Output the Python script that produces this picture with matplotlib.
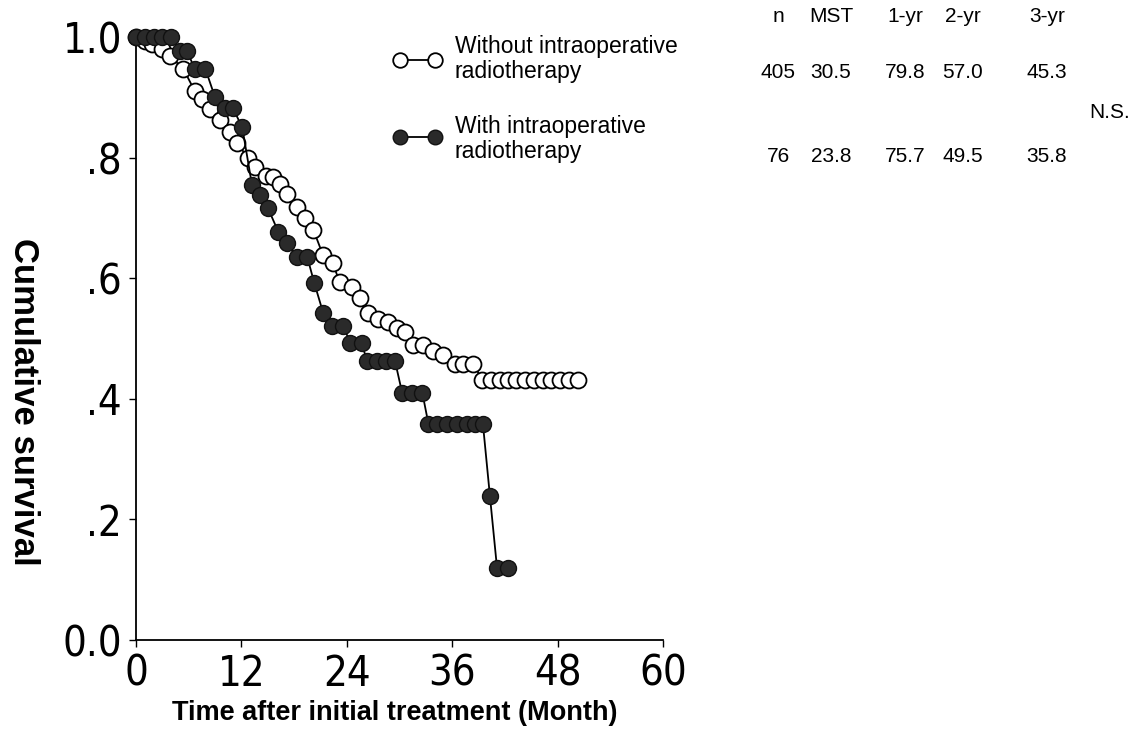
import matplotlib
matplotlib.use("Agg")
import matplotlib.pyplot as plt
from matplotlib.lines import Line2D
from matplotlib import font_manager
from pathlib import Path

# survival curve points (month, cumulative survival)
without_month = [0, 1.0, 1.8, 3.0, 3.9, 5.4, 6.7, 7.5, 8.4, 9.6, 10.7, 11.5,
                 12.7, 13.6, 14.8, 15.6, 16.4, 17.2, 18.3, 19.2, 20.2, 21.3,
                 22.4, 23.2, 24.6, 25.5, 26.4, 27.6, 28.7, 29.7, 30.6, 31.5,
                 32.7, 33.8, 35.0, 36.3, 37.2, 38.4, 39.4, 40.4, 41.4, 42.4,
                 43.3, 44.3, 45.3, 46.3, 47.3, 48.3, 49.3, 50.3]
without_surv = [1.0, 0.993, 0.988, 0.98, 0.968, 0.947, 0.91, 0.897, 0.88, 0.863,
                0.842, 0.825, 0.80, 0.785, 0.77, 0.767, 0.757, 0.74, 0.718, 0.70,
                0.68, 0.638, 0.625, 0.593, 0.585, 0.567, 0.542, 0.533, 0.527,
                0.517, 0.51, 0.49, 0.49, 0.48, 0.472, 0.458, 0.458, 0.458, 0.432,
                0.432, 0.432, 0.432, 0.432, 0.432, 0.432, 0.432, 0.432, 0.432,
                0.432, 0.432]

with_month = [0, 1, 2, 3, 4, 5.0, 5.8, 6.7, 7.9, 9.0, 10.1, 11.0, 12.1, 13.2,
              14.1, 15.0, 16.2, 17.2, 18.3, 19.5, 20.3, 21.3, 22.3, 23.6, 24.4,
              25.7, 26.3, 27.4, 28.5, 29.5, 30.3, 31.4, 32.6, 33.3, 34.3, 35.4,
              36.6, 37.7, 38.6, 39.5, 40.3, 41.1, 42.3]
with_surv = [1.0, 1.0, 1.0, 1.0, 1.0, 0.977, 0.977, 0.947, 0.947, 0.90, 0.883,
             0.883, 0.85, 0.755, 0.738, 0.717, 0.677, 0.658, 0.635, 0.635, 0.592,
             0.543, 0.52, 0.52, 0.493, 0.493, 0.462, 0.462, 0.462, 0.462, 0.41,
             0.41, 0.41, 0.358, 0.358, 0.358, 0.358, 0.358, 0.358, 0.358, 0.238,
             0.12, 0.12]

x_ticks = [0, 12, 24, 36, 48, 60]
y_ticks = [0.0, 0.2, 0.4, 0.6, 0.8, 1.0]
y_tick_labels = ["0.0", ".2", ".4", ".6", ".8", "1.0"]

table_header = ["n", "MST", "1-yr", "2-yr", "3-yr"]
row_without = ["405", "30.5", "79.8", "57.0", "45.3"]
row_with = ["76", "23.8", "75.7", "49.5", "35.8"]
label_without = "Without intraoperative\nradiotherapy"
label_with = "With intraoperative\nradiotherapy"

SANS = ["Liberation Sans", "DejaVu Sans"]


def narrow_font(size):
    # look for a condensed face for the tall tick numbers
    files = [f.fname for f in font_manager.fontManager.ttflist]
    for key in ["LiberationSansNarrow-Regular", "DejaVuSansCondensed.",
                "RobotoCondensed-Regular", "Roboto_Condensed-Regular",
                "OpenSans_Condensed-Regular", "Condensed-Regular", "Narrow-Regular"]:
        for fn in files:
            if key in Path(fn).name:
                return font_manager.FontProperties(fname=fn, size=size)
    return font_manager.FontProperties(family=SANS, size=size)


W, H = 1142, 734
fig = plt.figure(figsize=(W / 100, H / 100), dpi=100)
ax = fig.add_axes([136 / W, 1 - 640 / H, (663 - 136) / W, (640 - 37) / H])

open_style = dict(color="black", lw=1.3, marker="o", markersize=11.5,
                  markerfacecolor="white", markeredgecolor="black",
                  markeredgewidth=1.3, clip_on=False)
fill_style = dict(color="black", lw=1.3, marker="o", markersize=11.5,
                  markerfacecolor="#2a2a2a", markeredgecolor="#111111",
                  markeredgewidth=1.0, clip_on=False)

ax.plot(without_month, without_surv, zorder=3, **open_style)
ax.plot(with_month, with_surv, zorder=4, **fill_style)

ax.set_xlim(0, 60)
ax.set_ylim(0, 1.0)
ax.set_xticks(x_ticks)
ax.set_yticks(y_ticks)
ax.set_yticklabels(y_tick_labels)
tick_fp = narrow_font(30)
for lbl in ax.get_xticklabels() + ax.get_yticklabels():
    lbl.set_fontproperties(tick_fp)
ax.tick_params(axis="both", direction="out", length=5, width=1.0)
ax.tick_params(axis="x", pad=4)
ax.tick_params(axis="y", pad=5)
for side in ["top", "right"]:
    ax.spines[side].set_visible(False)
for side in ["left", "bottom"]:
    ax.spines[side].set_linewidth(1.3)

fig.text(395 / W, 1 - 713 / H, "Time after initial treatment (Month)",
         ha="center", va="center", fontsize=19.5, fontweight="bold", family=SANS)
fig.text(23 / W, 1 - 402 / H, "Cumulative survival", rotation=270,
         ha="center", va="center", fontsize=25, fontweight="bold", family=SANS)


def px(x, y):
    return x / W, 1 - y / H


# legend drawn by hand
for y_mark, style, y_text, label in [(60, open_style, 59, label_without),
                                     (137, fill_style, 139, label_with)]:
    xs = [px(400, 0)[0], px(435, 0)[0]]
    ys = [px(0, y_mark)[1]] * 2
    fig.add_artist(Line2D(xs, ys, transform=fig.transFigure,
                          **dict(style, markersize=10.5)))
    fig.text(*px(455, y_text), label, ha="left", va="center", fontsize=16.5,
             family=SANS, linespacing=1.15)

# summary table
col_x = [778, 831, 905, 963, 1047]
for cx, h, a, b in zip(col_x, table_header, row_without, row_with):
    fig.text(*px(cx, 17), h, ha="center", va="center", fontsize=15, family=SANS)
    fig.text(*px(cx, 72), a, ha="center", va="center", fontsize=15, family=SANS)
    fig.text(*px(cx, 156), b, ha="center", va="center", fontsize=15, family=SANS)
fig.text(*px(1110, 113), "N.S.", ha="center", va="center", fontsize=15, family=SANS)

fig.savefig("out.png", dpi=100)
